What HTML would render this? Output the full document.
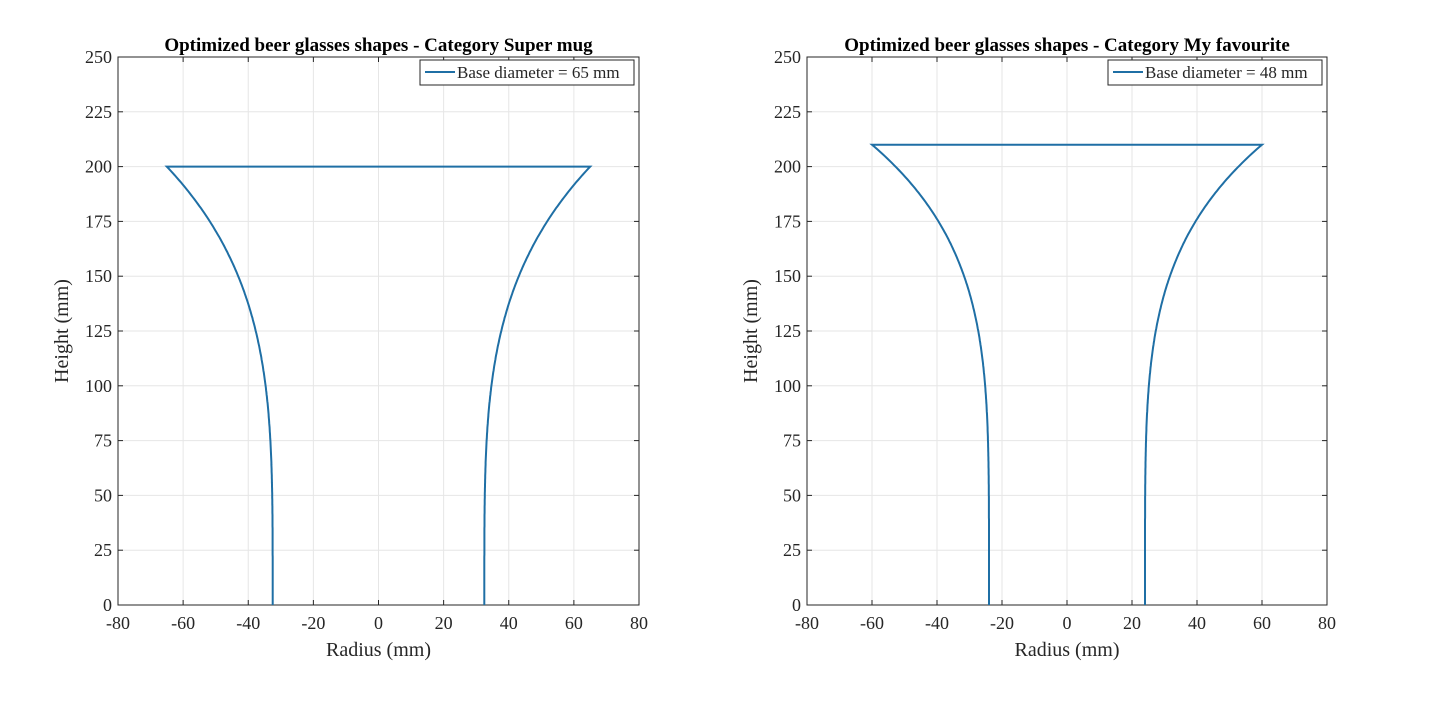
<!DOCTYPE html>
<html><head><style>
body{margin:0;background:#fff;}
svg text{font-family:"Liberation Serif",serif;fill:#262626;}
</style></head><body>
<svg id="s" width="1430" height="700" xmlns="http://www.w3.org/2000/svg"></svg>
<script>
const s=document.getElementById('s');
let h='';
function plot(L,R,title,r0,rt,H,p,leg){
 const T=57,B=605;
 const X=v=>L+(v+80)/160*(R-L), Y=v=>B-(v/250)*(B-T);
 for(let v=-80;v<=80;v+=20){const x=X(v);
  h+=`<line x1="${x}" y1="${T}" x2="${x}" y2="${B}" stroke="#e6e6e6" stroke-width="1"/>`;
  h+=`<line x1="${x}" y1="${B}" x2="${x}" y2="${B-5}" stroke="#262626"/><line x1="${x}" y1="${T}" x2="${x}" y2="${T+5}" stroke="#262626"/>`;
  h+=`<text x="${x}" y="${B+24}" font-size="18" text-anchor="middle">${v}</text>`;}
 for(let v=0;v<=250;v+=25){const y=Y(v);
  h+=`<line x1="${L}" y1="${y}" x2="${R}" y2="${y}" stroke="#e6e6e6" stroke-width="1"/>`;
  h+=`<line x1="${L}" y1="${y}" x2="${L+5}" y2="${y}" stroke="#262626"/><line x1="${R}" y1="${y}" x2="${R-5}" y2="${y}" stroke="#262626"/>`;
  h+=`<text x="${L-6}" y="${y+6}" font-size="18" text-anchor="end">${v}</text>`;}
 h+=`<rect x="${L}" y="${T}" width="${R-L}" height="${B-T}" fill="none" stroke="#262626" stroke-width="1"/>`;
 let pts=[];
 for(let i=0;i<=200;i++){const hh=i/200*H;const r=r0+(rt-r0)*Math.pow(hh/H,p);pts.push([-r,hh]);}
 let path='M'+pts.map(q=>X(q[0]).toFixed(1)+','+Y(q[1]).toFixed(1)).join(' L');
 path+=' L'+pts.slice().reverse().map(q=>X(-q[0]).toFixed(1)+','+Y(q[1]).toFixed(1)).join(' L');
 h+=`<path d="${path}" fill="none" stroke="#1f6fa5" stroke-width="2"/>`;
 const cx=(L+R)/2;
 h+=`<text x="${cx}" y="${T-6}" font-size="19" font-weight="bold" text-anchor="middle" style="fill:#000">${title}</text>`;
 h+=`<text x="${cx}" y="${B+51}" font-size="20" text-anchor="middle">Radius (mm)</text>`;
 h+=`<text transform="translate(${L-50},${(T+B)/2}) rotate(-90)" font-size="20" text-anchor="middle">Height (mm)</text>`;
 const lx=R-219;
 h+=`<rect x="${lx}" y="${T+3}" width="214" height="25" fill="#fff" stroke="#262626" stroke-width="1"/>`;
 h+=`<line x1="${lx+5}" y1="${T+15}" x2="${lx+35}" y2="${T+15}" stroke="#1f6fa5" stroke-width="2"/>`;
 h+=`<text x="${lx+37}" y="${T+21}" font-size="17">${leg}</text>`;
}
plot(118,639,'Optimized beer glasses shapes - Category Super mug',32.5,65,200,3.9,'Base diameter =  65 mm');
plot(807,1327,'Optimized beer glasses shapes - Category My favourite',24,60,210,4.6,'Base diameter =  48 mm');
s.innerHTML=h;
</script>
</body></html>
